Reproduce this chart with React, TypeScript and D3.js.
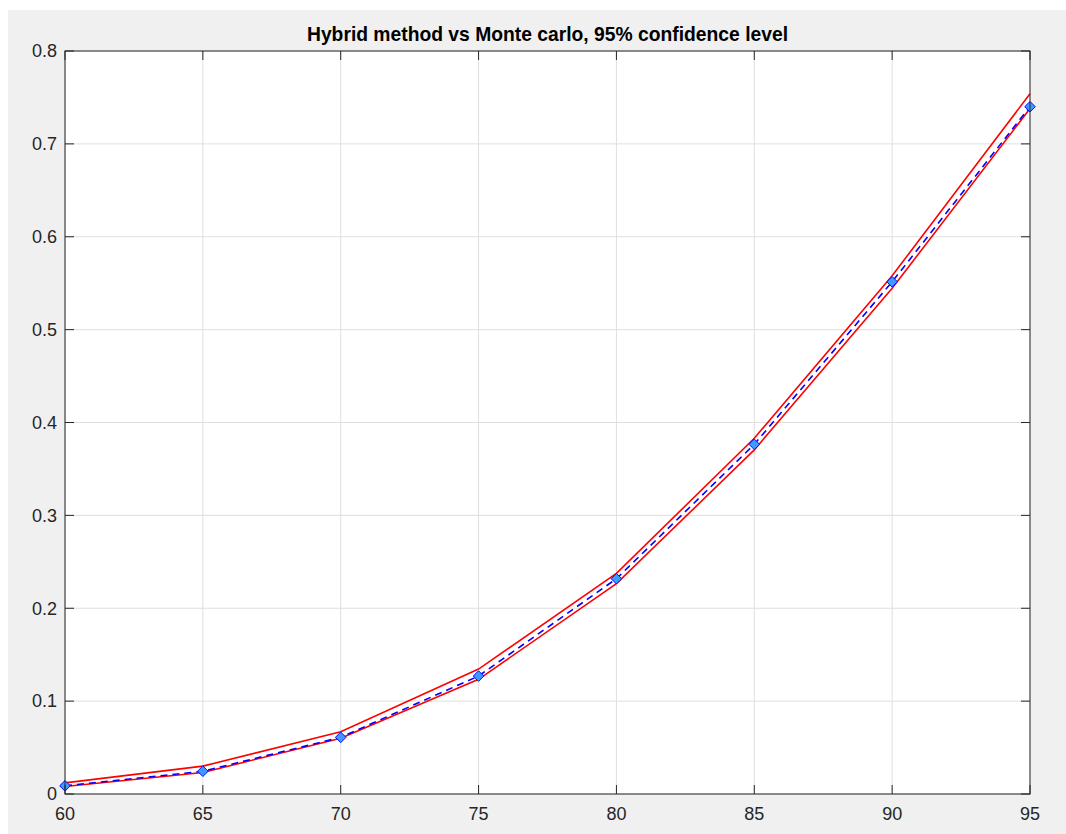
import * as d3 from 'd3';
import React from 'react';

// x values (confidence level, %)
const levels = [60, 65, 70, 75, 80, 85, 90, 95];
// Monte carlo estimate (blue dashed, diamonds)
const monteCarlo = [0.0088, 0.0245, 0.061, 0.127, 0.2318, 0.3765, 0.5515, 0.740];
// Hybrid method bounds (red)
const upperBound = [0.012, 0.030, 0.067, 0.1345, 0.2375, 0.383, 0.558, 0.754];
const lowerBound = [0.008, 0.0232, 0.0600, 0.1235, 0.2265, 0.3705, 0.5445, 0.738];

const xTicks = [60, 65, 70, 75, 80, 85, 90, 95];
const yTicks = [0, 0.1, 0.2, 0.3, 0.4, 0.5, 0.6, 0.7, 0.8];

const title = 'Hybrid method vs Monte carlo, 95% confidence level';

export default function App() {
  const width = 1066;
  const height = 834;
  const left = 65;
  const right = 1030;
  const top = 51;
  const bottom = 794;
  const tickLen = 9;
  const axisColor = '#262626';
  const font = '"Liberation Sans", Arial, sans-serif';

  const x = d3.scaleLinear().domain([60, 95]).range([left, right]);
  const y = d3.scaleLinear().domain([0, 0.8]).range([bottom, top]);

  const line = d3
    .line<number>()
    .x((_, i) => x(levels[i]))
    .y((d) => y(d));

  const diamond = (cx: number, cy: number, r: number) =>
    `M${cx},${cy - r}L${cx + r},${cy}L${cx},${cy + r}L${cx - r},${cy}Z`;

  return (
    <svg
      width={width}
      height={height}
      style={{ position: 'absolute', left: 0, top: 0, display: 'block' }}
    >
      <rect x={0} y={0} width={width} height={height} fill="#ffffff" />
      <rect x={8} y={10} width={width - 8} height={height - 10} fill="#f0f0f0" />
      <rect x={left} y={top} width={right - left} height={bottom - top} fill="#ffffff" />

      {/* grid */}
      {xTicks.map((t) => (
        <line key={'gx' + t} x1={x(t)} x2={x(t)} y1={top} y2={bottom} stroke="#dfdfdf" strokeWidth={1} />
      ))}
      {yTicks.map((t) => (
        <line key={'gy' + t} x1={left} x2={right} y1={y(t)} y2={y(t)} stroke="#dfdfdf" strokeWidth={1} />
      ))}

      {/* data */}
      <path d={line(upperBound) ?? ''} fill="none" stroke="#ff0000" strokeWidth={1.6} />
      <path d={line(lowerBound) ?? ''} fill="none" stroke="#ff0000" strokeWidth={1.6} />
      <path
        d={line(monteCarlo) ?? ''}
        fill="none"
        stroke="#0000ff"
        strokeWidth={1.6}
        strokeDasharray="7,5"
      />
      {monteCarlo.map((v, i) => (
        <path
          key={'m' + i}
          d={diamond(x(levels[i]), y(v), 5.3)}
          fill="#3d9bff"
          stroke="#0a0aff"
          strokeWidth={1}
        />
      ))}

      {/* box and ticks */}
      <rect x={left} y={top} width={right - left} height={bottom - top} fill="none" stroke={axisColor} strokeWidth={1} />
      {xTicks.map((t) => (
        <g key={'tx' + t}>
          <line x1={x(t)} x2={x(t)} y1={bottom} y2={bottom - tickLen} stroke={axisColor} />
          <line x1={x(t)} x2={x(t)} y1={top} y2={top + tickLen} stroke={axisColor} />
          <text
            x={x(t)}
            y={820}
            textAnchor="middle"
            fontFamily={font}
            fontSize={18}
            fill={axisColor}
          >
            {t}
          </text>
        </g>
      ))}
      {yTicks.map((t) => (
        <g key={'ty' + t}>
          <line x1={left} x2={left + tickLen} y1={y(t)} y2={y(t)} stroke={axisColor} />
          <line x1={right} x2={right - tickLen} y1={y(t)} y2={y(t)} stroke={axisColor} />
          <text
            x={left - 8}
            y={y(t)}
            dy="0.35em"
            textAnchor="end"
            fontFamily={font}
            fontSize={18}
            fill={axisColor}
          >
            {d3.format('~g')(t)}
          </text>
        </g>
      ))}

      <text
        x={(left + right) / 2}
        y={41}
        textAnchor="middle"
        fontFamily={font}
        fontSize={19.3}
        fontWeight="bold"
        fill="#000000"
      >
        {title}
      </text>
    </svg>
  );
}
